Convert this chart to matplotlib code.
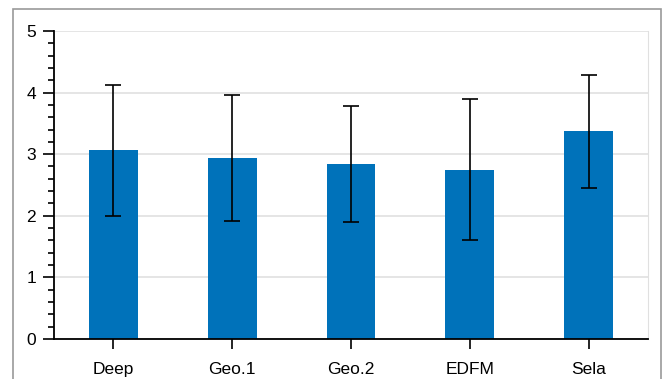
import matplotlib.pyplot as plt
from matplotlib.patches import Rectangle
from matplotlib.ticker import MultipleLocator

methods = ["Deep", "Geo.1", "Geo.2", "EDFM", "Sela"]
means = [3.06, 2.94, 2.84, 2.75, 3.37]
errors = [1.06, 1.02, 0.95, 1.15, 0.915]

plt.rcParams['font.family'] = ['Liberation Sans', 'DejaVu Sans']

fig = plt.figure(figsize=(6.66, 3.79), dpi=100)
ax = fig.add_axes([0.081, 0.106, 0.892, 0.812])

# grey frame round the whole figure, open at the bottom
fig.patches.append(Rectangle((13 / 666, -0.1), 648 / 666, 1.1 - 9 / 379,
                             transform=fig.transFigure, fill=False,
                             edgecolor='#9a9a9a', linewidth=1.2))

x = range(len(methods))
ax.bar(x, means, width=0.41, color='#0072BA', zorder=2)
ax.errorbar(x, means, yerr=errors, fmt='none', ecolor='black',
            elinewidth=1.2, capsize=6, capthick=1.2, zorder=3)

ax.set_xlim(-0.5, 4.5)
ax.set_ylim(0, 5)
ax.set_xticks(list(x))
ax.set_xticklabels(methods, fontsize=12.5)
ax.yaxis.set_major_locator(MultipleLocator(1))
ax.yaxis.set_minor_locator(MultipleLocator(0.2))
ax.tick_params(axis='y', which='major', direction='out', length=8, width=1.2,
               labelsize=12.5, pad=5)
ax.tick_params(axis='y', which='minor', direction='out', length=4.5, width=1.2)
ax.tick_params(axis='x', which='major', direction='out', length=7, width=1.2,
               pad=10)

ax.grid(axis='y', color='#e0e0e0', linewidth=1.2, zorder=0)
ax.set_axisbelow(True)
ax.spines['top'].set_visible(False)
ax.spines['right'].set_color('#e0e0e0')
ax.spines['left'].set_linewidth(1.3)
ax.spines['bottom'].set_linewidth(1.3)

plt.savefig('out.png', dpi=100)
